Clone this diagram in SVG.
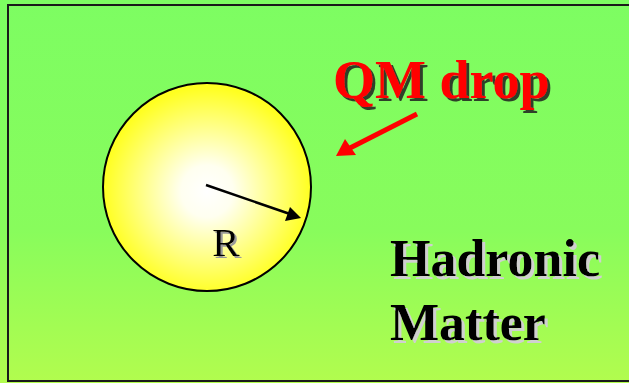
<svg xmlns="http://www.w3.org/2000/svg" width="629" height="383" viewBox="0 0 629 383">
<defs>
<linearGradient id="bg" x1="0" y1="0" x2="0" y2="1">
<stop offset="0" stop-color="#7DFD62"/>
<stop offset="0.6" stop-color="#88FC5C"/>
<stop offset="1" stop-color="#B2FC4E"/>
</linearGradient>
<radialGradient id="drop" cx="0.5" cy="0.52" r="0.5">
<stop offset="0" stop-color="#FFFFFF"/>
<stop offset="0.25" stop-color="#FFFFF0"/>
<stop offset="1" stop-color="#FFFF20"/>
</radialGradient>
<filter id="darkShadow" x="-10%" y="-20%" width="130%" height="150%">
<feDropShadow dx="3" dy="3" stdDeviation="0.6" flood-color="#1a1a1a" flood-opacity="0.85"/>
</filter>
<filter id="lightShadow" x="-10%" y="-20%" width="130%" height="150%">
<feDropShadow dx="3" dy="3" stdDeviation="0.6" flood-color="#d0d0d0" flood-opacity="1"/>
</filter>
<filter id="greyShadow" x="-20%" y="-20%" width="150%" height="150%">
<feDropShadow dx="2" dy="2" stdDeviation="0.6" flood-color="#999" flood-opacity="1"/>
</filter>
<style>
.serif{font-family:"Liberation Serif","Times New Roman",serif;}
.big{font-weight:bold;font-size:52px;fill:#000;filter:url(#lightShadow);}
</style>
</defs>
<rect x="0" y="0" width="629" height="383" fill="url(#bg)"/>
<rect x="8" y="5" width="630" height="376" fill="none" stroke="#1a1a1a" stroke-width="2"/>
<g id="drop-node">
<circle cx="207" cy="187" r="104" fill="url(#drop)" stroke="#000" stroke-width="2"/>
<line x1="206" y1="185" x2="290" y2="214" stroke="#000" stroke-width="2.5"/>
<path d="M301,218 L285,221 L290,207 z" fill="#000"/>
<text class="serif" x="226" y="256" font-size="41" fill="#000" text-anchor="middle" filter="url(#greyShadow)">R</text>
</g>
<g id="qm-label">
<text class="serif" x="333" y="98" font-size="54" font-weight="bold" fill="#FF0000" filter="url(#darkShadow)">QM drop</text>
</g>
<g id="hadronic">
<text class="serif big" x="390" y="276">Hadronic</text>
<text class="serif big" x="390" y="340">Matter</text>
</g>
<g id="connectors">
<line x1="417" y1="114" x2="350" y2="148" stroke="#FF0000" stroke-width="5"/>
<path d="M336,156 L345,139 L356,155 z" fill="#FF0000"/>
</g>
</svg>
